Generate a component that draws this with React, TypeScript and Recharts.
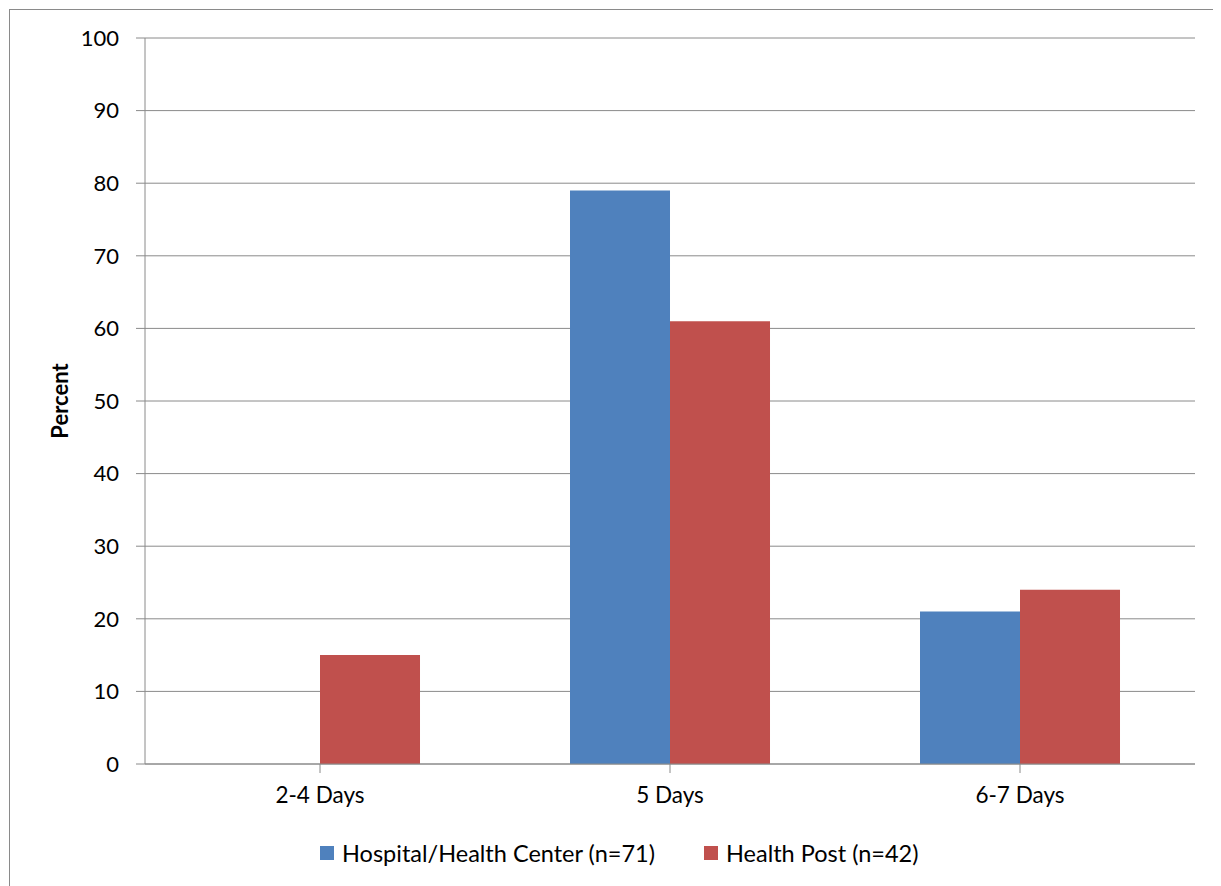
import React from "react";
import { BarChart, Bar, XAxis, YAxis, CartesianGrid, Legend, Label } from "recharts";

const categories = ["2-4 Days", "5 Days", "6-7 Days"];
const hospitalValues = [0, 79, 21];
const healthPostValues = [15, 61, 24];
const yTicks = [0, 10, 20, 30, 40, 50, 60, 70, 80, 90, 100];
const seriesNames = ["Hospital/Health Center (n=71)", "Health Post (n=42)"];
const seriesColors = ["#4F81BD", "#C0504D"];

const data = categories.map((c, i) => ({
  name: c,
  hospital: hospitalValues[i],
  post: healthPostValues[i],
}));

const FONT = "Lato, 'Open Sans', sans-serif";

const LegendContent = () => (
  <div style={{ display: "flex", alignItems: "center", fontFamily: FONT, fontSize: 23.5, lineHeight: "28px", color: "#000", whiteSpace: "nowrap" }}>
    {seriesNames.map((n, i) => (
      <div key={n} style={{ display: "flex", alignItems: "center", marginRight: i === 0 ? 49 : 0 }}>
        <div style={{ width: 14, height: 14, background: seriesColors[i], marginRight: 8 }} />
        <span>{n}</span>
      </div>
    ))}
  </div>
);

export default function App() {
  return (
    <div style={{ position: "relative", left: 1, top: 1, width: 1240, height: 900, border: "1px solid #8a8a8a", background: "#fff" }}>
      <BarChart
        width={1211}
        height={876}
        data={data}
        margin={{ top: 28, right: 26, bottom: 82, left: 35 }}
        barCategoryGap="21.43%"
        barGap={0}
      >
        <CartesianGrid vertical={false} stroke="#8a8a8a" strokeWidth={1} />
        <XAxis
          dataKey="name"
          height={40}
          tickSize={9}
          tickMargin={14}
          stroke="#8a8a8a"
          tick={{ fill: "#000", fontSize: 22.5, fontFamily: FONT }}
        />
        <YAxis
          width={100}
          domain={[0, 100]}
          ticks={yTicks}
          interval={0}
          tickSize={9}
          tickMargin={17}
          stroke="#8a8a8a"
          tick={{ fill: "#000", fontSize: 22, fontFamily: FONT }}
        >
          <Label
            content={(props: any) => {
              const vb = props.viewBox || { x: 0, y: 0, height: 0 };
              const cx = vb.x + 14;
              const cy = vb.y + vb.height / 2;
              return (
                <text
                  x={cx}
                  y={cy}
                  transform={`rotate(-90, ${cx}, ${cy})`}
                  textAnchor="middle"
                  dominantBaseline="central"
                  fontFamily={FONT}
                  fontWeight="bold"
                  fontSize={22}
                  fill="#000"
                >
                  Percent
                </text>
              );
            }}
          />
        </YAxis>
        <Legend
          verticalAlign="middle"
          align="center"
          layout="horizontal"
          content={<LegendContent />}
          wrapperStyle={{ top: 829, left: 310, width: "auto" }}
        />
        <Bar dataKey="hospital" name={seriesNames[0]} fill={seriesColors[0]} isAnimationActive={false} />
        <Bar dataKey="post" name={seriesNames[1]} fill={seriesColors[1]} isAnimationActive={false} />
      </BarChart>
    </div>
  );
}
